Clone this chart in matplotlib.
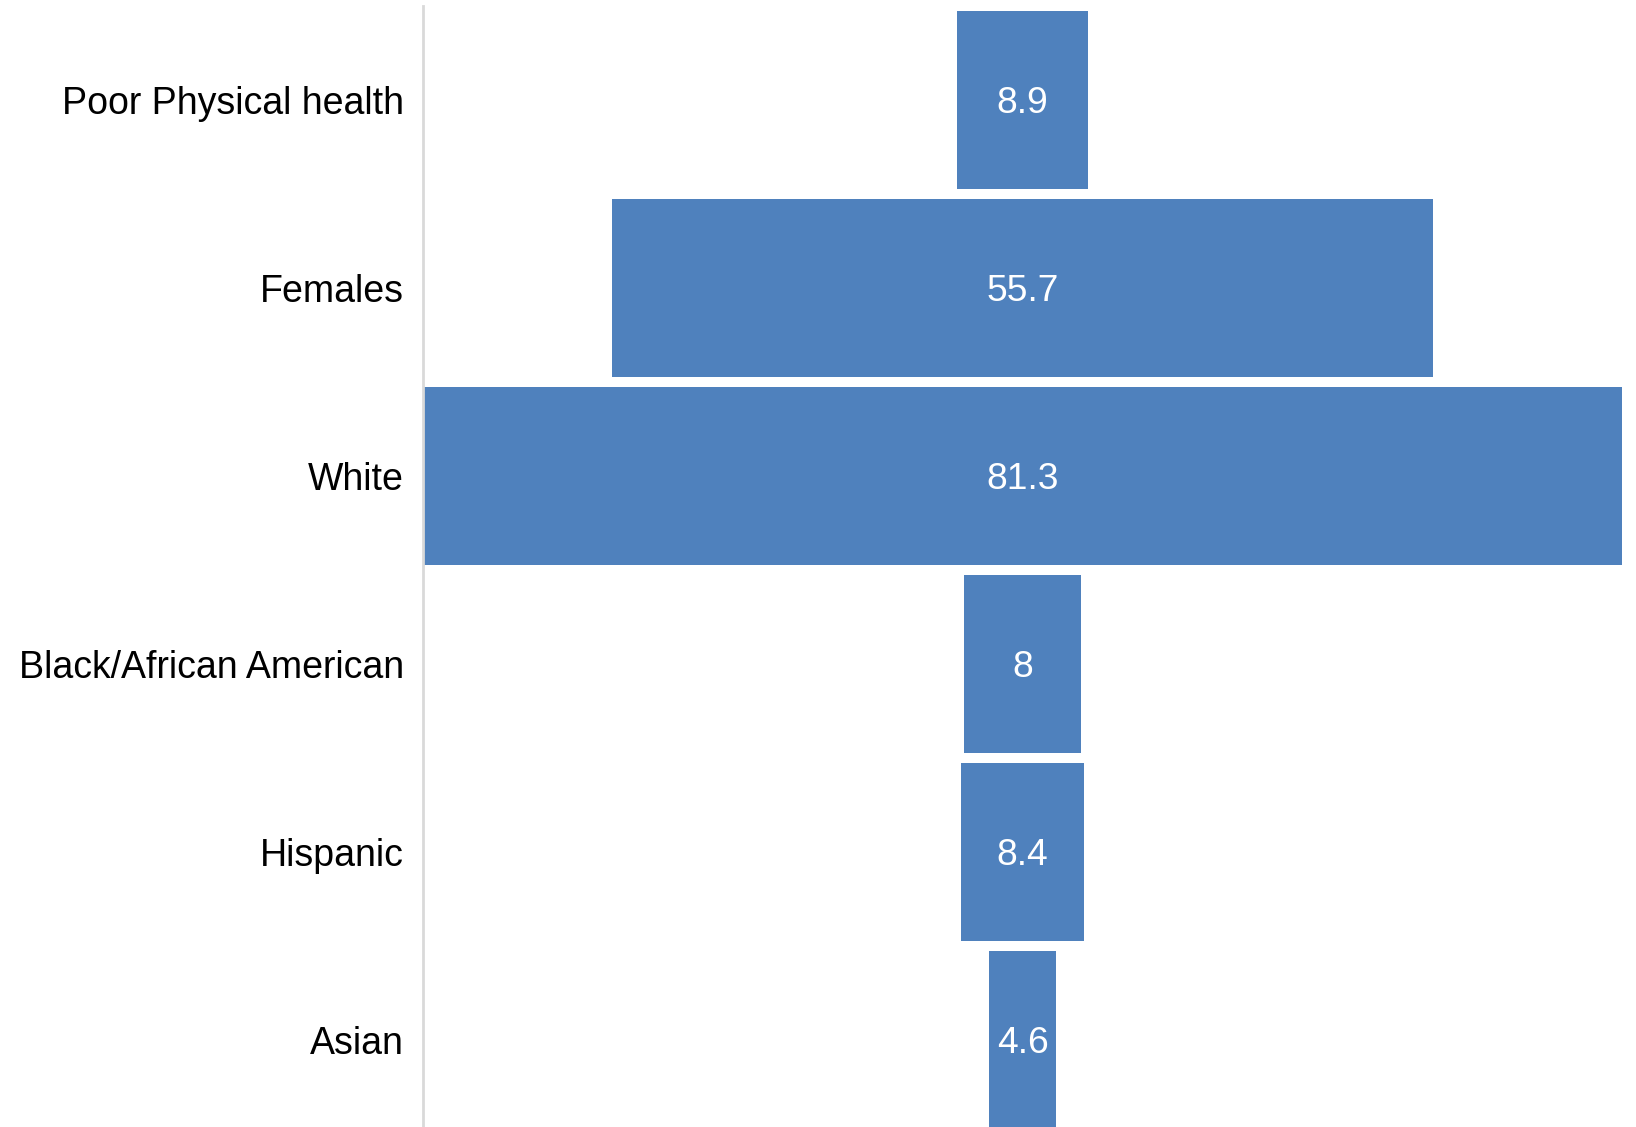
import matplotlib
matplotlib.use("Agg")
import matplotlib.pyplot as plt

categories = ["Poor Physical health", "Females", "White",
              "Black/African American", "Hispanic", "Asian"]
values = [8.9, 55.7, 81.3, 8, 8.4, 4.6]
value_labels = ["8.9", "55.7", "81.3", "8", "8.4", "4.6"]

plt.rcParams["font.family"] = ["Liberation Sans", "DejaVu Sans"]

fig = plt.figure(figsize=(16.36, 11.27), dpi=100)
ax = fig.add_axes([0.2586, -0.0062, 0.7328, 1.0009])

bar_color = "#4f81bd"
ypos = list(range(len(categories)))
lefts = [-v / 2 for v in values]
ax.barh(ypos, values, left=lefts, height=0.943, color=bar_color, zorder=2)

for y, lab in zip(ypos, value_labels):
    ax.text(0, y, lab, ha="center", va="center_baseline",
            color="white", fontsize=26.8)

half = max(values) / 2
ax.set_xlim(-half, half)
ax.set_ylim(len(categories) - 0.5, -0.5)
ax.set_yticks(ypos)
ax.set_yticklabels(categories, fontsize=27)
ax.tick_params(axis="y", length=0, pad=14)
ax.set_xticks([])

for side in ["top", "right", "bottom"]:
    ax.spines[side].set_visible(False)
ax.spines["left"].set_color("#d9d9d9")
ax.spines["left"].set_linewidth(2)

fig.savefig("out.png", dpi=100)
